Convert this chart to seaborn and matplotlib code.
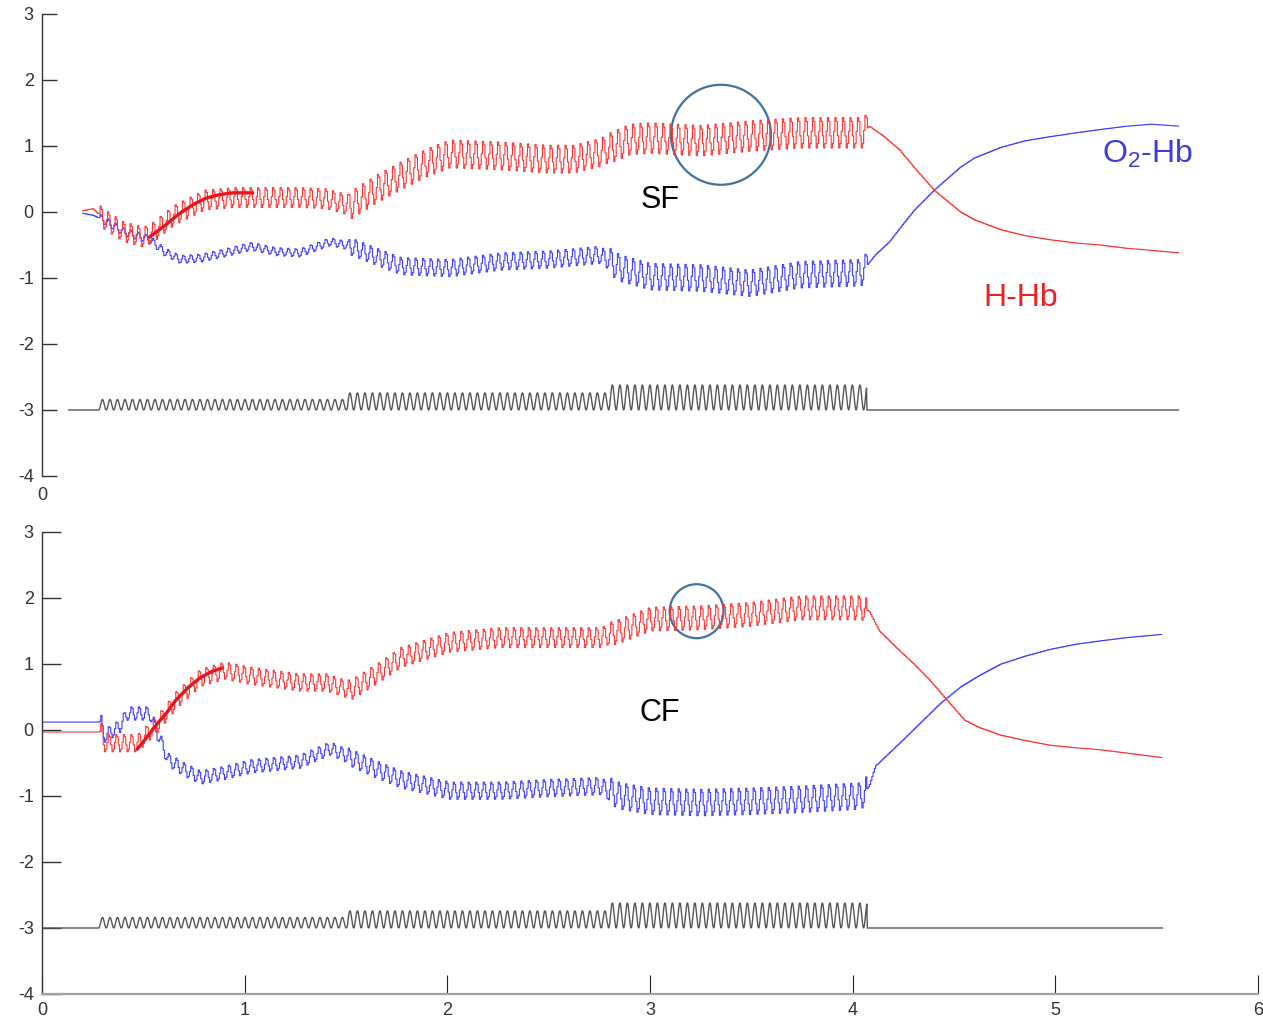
import numpy as np
import matplotlib
matplotlib.use("Agg")
from matplotlib import pyplot as plt
from matplotlib.patches import Ellipse
import seaborn as sns

# stimulus blocks (on, off, amplitude) shared by both panels
stim_on = [0.28, 1.51, 2.79]
stim_off = [1.51, 2.79, 4.07]
stim_amp = [0.16, 0.26, 0.38]
period = 0.037
cycle_shape = [0.1, 1.0, 0.75, -0.2, -1.0, -0.7]

# SF panel trend values
sf_t_red = [0.20, 0.25, 0.30, 0.40, 0.50, 0.55, 0.65, 0.80, 0.95, 1.10, 1.27, 1.40, 1.52, 1.65, 1.77, 1.90,
            2.01, 2.26, 2.50, 2.62, 2.75, 2.90, 3.00, 3.25, 3.49, 3.74, 4.05, 4.08, 4.15, 4.23, 4.30, 4.40,
            4.53, 4.60, 4.73, 4.85, 4.97, 5.10, 5.22, 5.35, 5.47, 5.61]
sf_red = [0.02, 0.05, -0.10, -0.30, -0.38, -0.30, -0.05, 0.18, 0.22, 0.22, 0.22, 0.20, 0.10, 0.35, 0.55, 0.75,
          0.88, 0.85, 0.80, 0.80, 0.90, 1.10, 1.12, 1.08, 1.15, 1.20, 1.20, 1.30, 1.15, 0.94, 0.68, 0.33,
          0.00, -0.12, -0.27, -0.36, -0.42, -0.47, -0.50, -0.55, -0.58, -0.62]
sf_t_blue = [0.20, 0.25, 0.30, 0.40, 0.53, 0.60, 0.68, 0.78, 0.90, 1.03, 1.15, 1.27, 1.42, 1.52, 1.65, 1.77,
             2.01, 2.26, 2.50, 2.75, 2.85, 3.00, 3.25, 3.49, 3.74, 4.04, 4.11, 4.18, 4.23, 4.30, 4.40, 4.53,
             4.60, 4.73, 4.85, 4.97, 5.10, 5.22, 5.35, 5.47, 5.61]
sf_blue = [-0.02, -0.05, -0.12, -0.30, -0.42, -0.60, -0.72, -0.70, -0.62, -0.52, -0.60, -0.62, -0.45, -0.52,
           -0.68, -0.82, -0.85, -0.75, -0.72, -0.65, -0.85, -0.98, -1.00, -1.08, -0.95, -0.92, -0.65, -0.45,
           -0.25, 0.02, 0.33, 0.68, 0.82, 0.98, 1.08, 1.14, 1.20, 1.25, 1.30, 1.33, 1.30]
sf_amp_red = [0.15, 0.21, 0.23]
sf_amp_blue = [0.06, 0.13, 0.20]
sf_fit_t = [0.53, 0.60, 0.68, 0.75, 0.81, 0.87, 0.94, 1.04]
sf_fit = [-0.38, -0.22, -0.02, 0.12, 0.21, 0.26, 0.29, 0.29]

# CF panel
cf_t_red = [0.00, 0.29, 0.30, 0.47, 0.57, 0.66, 0.78, 0.90, 1.03, 1.27, 1.40, 1.52, 1.65, 1.77, 2.01, 2.26,
            2.50, 2.75, 2.85, 3.00, 3.25, 3.49, 3.74, 4.04, 4.08, 4.13, 4.23, 4.30, 4.38, 4.45, 4.55, 4.62,
            4.73, 4.85, 4.97, 5.10, 5.22, 5.35, 5.53]
cf_red = [-0.03, -0.03, -0.20, -0.20, 0.10, 0.45, 0.79, 0.90, 0.82, 0.72, 0.72, 0.60, 0.85, 1.10, 1.33, 1.40,
          1.40, 1.40, 1.50, 1.68, 1.70, 1.75, 1.85, 1.85, 1.80, 1.50, 1.20, 1.00, 0.75, 0.50, 0.15, 0.04,
          -0.08, -0.16, -0.23, -0.27, -0.30, -0.35, -0.42]
cf_t_blue = [0.00, 0.29, 0.30, 0.38, 0.42, 0.53, 0.56, 0.62, 0.70, 0.78, 0.90, 1.03, 1.27, 1.42, 1.52, 1.65,
             1.77, 2.01, 2.26, 2.50, 2.75, 2.85, 3.00, 3.25, 3.49, 3.74, 4.04, 4.08, 4.11, 4.23, 4.33, 4.43,
             4.53, 4.62, 4.73, 4.85, 4.97, 5.10, 5.22, 5.35, 5.53]
cf_blue = [0.12, 0.12, -0.10, 0.05, 0.25, 0.25, 0.00, -0.45, -0.60, -0.72, -0.65, -0.55, -0.48, -0.28, -0.42,
           -0.60, -0.75, -0.92, -0.92, -0.88, -0.85, -1.00, -1.08, -1.10, -1.08, -1.05, -1.00, -0.85, -0.55,
           -0.20, 0.10, 0.40, 0.65, 0.82, 1.00, 1.12, 1.22, 1.30, 1.35, 1.40, 1.45]
cf_amp_red = [0.13, 0.15, 0.18]
cf_amp_blue = [0.10, 0.13, 0.20]
cf_fit_t = [0.47, 0.52, 0.57, 0.62, 0.66, 0.72, 0.78, 0.84, 0.89]
cf_fit = [-0.29, -0.10, 0.10, 0.28, 0.45, 0.64, 0.79, 0.89, 0.94]


def hb_series(kt, kv, amps):
    n = len(cycle_shape)
    t = np.arange(kt[0], kt[-1], period / n)
    y = np.interp(t, kt, kv)
    idx = (np.floor((t - stim_on[0]) / period * n + 1e-6) % n).astype(int)
    sq = np.array(cycle_shape)[idx]
    for a, b, amp in zip(stim_on, stim_off, amps):
        m = (t >= a) & (t < b)
        y[m] += amp * sq[m]
    return t, y


def stim_series(t0, t1):
    t = np.arange(t0, t1, period / 16)
    y = np.full_like(t, -3.0)
    for a, b, amp in zip(stim_on, stim_off, stim_amp):
        m = (t >= a) & (t < b)
        y[m] += amp * 0.5 * (1 - np.cos(2 * np.pi * (t[m] - stim_on[0]) / period))
    return t, y


sns.set_style("white")
plt.rcParams["font.family"] = ["Liberation Sans", "DejaVu Sans"]
plt.rcParams["mathtext.fontset"] = "custom"
plt.rcParams["mathtext.rm"] = "Liberation Sans"
plt.rcParams["mathtext.default"] = "regular"
plt.rcParams["axes.unicode_minus"] = False

fig = plt.figure(figsize=(12.63, 10.24), dpi=100)
ax1 = fig.add_axes([0.03325, 0.53516, 0.96279, 0.45117])
ax2 = fig.add_axes([0.03325, 0.02930, 0.96279, 0.45117])

red = "#ff3535"
blue = "#4040ff"
panels = [
    (ax1, sf_t_red, sf_red, sf_amp_red, sf_t_blue, sf_blue, sf_amp_blue, sf_fit_t, sf_fit, 0.13, 5.61),
    (ax2, cf_t_red, cf_red, cf_amp_red, cf_t_blue, cf_blue, cf_amp_blue, cf_fit_t, cf_fit, 0.0, 5.53),
]
for ax, tr, vr, ar, tb, vb, ab, ft, fv, s0, s1 in panels:
    st, sy = stim_series(s0, s1)
    sns.lineplot(x=st, y=sy, ax=ax, color="#555555", lw=1.0, estimator=None)
    bt, by = hb_series(tb, vb, ab)
    sns.lineplot(x=bt, y=by, ax=ax, color=blue, lw=0.8, estimator=None, drawstyle="steps-post")
    rt, ry = hb_series(tr, vr, ar)
    sns.lineplot(x=rt, y=ry, ax=ax, color=red, lw=0.8, estimator=None, drawstyle="steps-post")
    sns.lineplot(x=ft, y=fv, ax=ax, color="#e8141c", lw=2.4, estimator=None)
    ax.set_xlim(0, 6)
    ax.set_ylim(-4, 3)
    ax.set_yticks(range(-4, 4))
    for s in ["top", "right"]:
        ax.spines[s].set_visible(False)
    ax.spines["left"].set_color("#333333")
    ax.spines["left"].set_linewidth(1.0)
    ax.tick_params(axis="both", labelsize=13, labelcolor="#333333", colors="#333333")

# top panel: no x axis line, only the 0 label
ax1.spines["bottom"].set_visible(False)
ax1.set_xticks([0])
ax1.tick_params(axis="x", bottom=True, length=0, pad=8)
ax1.tick_params(axis="y", left=True, direction="in", length=11, width=1.0, pad=6)

ax2.spines["bottom"].set_color("#a0a0a0")
ax2.spines["bottom"].set_linewidth(1.6)
ax2.set_xticks(range(0, 7))
ax2.tick_params(axis="x", bottom=True, direction="in", length=14, width=0.8, color="#222222", pad=6)
ax2.tick_params(axis="y", left=True, direction="in", length=14, width=1.0, pad=6)

# annotations
ax1.text(3.05, 0.18, "SF", fontsize=22, ha="center", va="center", color="black")
ax2.text(3.05, 0.26, "CF", fontsize=22, ha="center", va="center", color="black")
ax1.text(5.23, 0.74, "O$_2$-Hb", fontsize=23, ha="left", va="baseline", color="#3c3cd8")
ax1.text(4.83, -1.30, "H-Hb", fontsize=23, ha="center", va="center", color="#ee2020")
ax1.add_patch(Ellipse((3.35, 1.17), 0.493, 1.515, fill=False, ec="#41719c", lw=1.6))
ax2.add_patch(Ellipse((3.23, 1.80), 0.266, 0.818, fill=False, ec="#41719c", lw=1.6))

for ax in (ax1, ax2):
    ax.set_xlabel("")
    ax.set_ylabel("")

fig.savefig("out.png", dpi=100)
